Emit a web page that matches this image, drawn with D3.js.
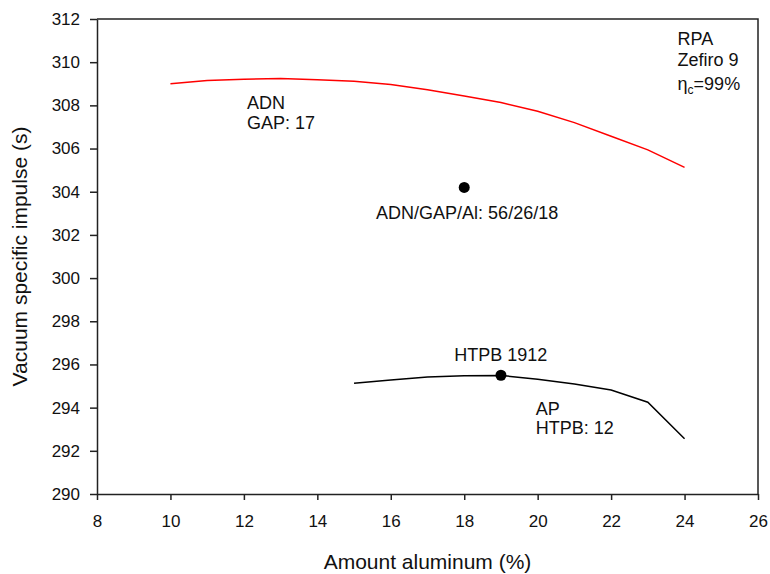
<!DOCTYPE html>
<html>
<head>
<meta charset="utf-8">
<script src="https://cdn.jsdelivr.net/npm/d3@7"></script>
<style>
  body { margin: 0; background: #fff; }
  svg text { font-family: "Liberation Sans", Arial, sans-serif; fill: #111; }
  .axis path, .axis line { stroke: #222; stroke-width: 1.5; }
</style>
</head>
<body>
<div id="holder"></div>
<script>
// ADN / GAP 17 curve (red)
var adnAl  = [10, 11, 12, 13, 14, 15, 16, 17, 18, 19, 20, 21, 22, 23, 24];
var adnIsp = [309.00, 309.15, 309.21, 309.24, 309.19, 309.12, 308.97, 308.72,
              308.43, 308.13, 307.73, 307.20, 306.57, 305.94, 305.13];

// AP / HTPB 12 curve (black)
var apAl  = [15, 16, 17, 18, 19, 20, 21, 22, 23, 24];
var apIsp = [295.13, 295.28, 295.42, 295.48, 295.49, 295.32, 295.10, 294.82, 294.25, 292.56];

// single formulations
var pointAl  = [18, 19];
var pointIsp = [304.2, 295.5];

var xTicks = [8, 10, 12, 14, 16, 18, 20, 22, 24, 26];
var yTicks = [290, 292, 294, 296, 298, 300, 302, 304, 306, 308, 310, 312];

function generateChart() {
  var margin = {top: 19, right: 12, bottom: 80, left: 97};
  var fullWidth = 770;
  var fullHeight = 574;
  var width = fullWidth - margin.left - margin.right;
  var height = fullHeight - margin.top - margin.bottom;

  var svg = d3.select('#holder').append('svg')
    .attr('width', fullWidth)
    .attr('height', fullHeight)
    .append('g')
    .attr('transform', 'translate(' + margin.left + ',' + margin.top + ')');

  var x = d3.scaleLinear().domain([8, 26]).range([0, width]);
  var y = d3.scaleLinear().domain([290, 312]).range([height, 0]);

  // frame (top and right sides)
  svg.append('path')
    .attr('d', 'M0,0H' + width + 'V' + height)
    .attr('fill', 'none')
    .attr('stroke', '#222')
    .attr('stroke-width', 1.5);

  var xaxis = d3.axisBottom(x).tickValues(xTicks).tickSize(6).tickPadding(15).tickSizeOuter(0);
  var yaxis = d3.axisLeft(y).tickValues(yTicks).tickSize(7).tickPadding(10).tickSizeOuter(0);

  svg.append('g')
    .classed('x axis', true)
    .attr('transform', 'translate(0,' + height + ')')
    .call(xaxis)
    .selectAll('text').style('font-size', '17px');

  svg.append('g')
    .classed('y axis', true)
    .call(yaxis)
    .selectAll('text').style('font-size', '17px');

  svg.selectAll('.domain').attr('stroke', '#222').attr('stroke-width', 1.5);

  var line = d3.line()
    .x(function(d) { return x(d[0]); })
    .y(function(d) { return y(d[1]); });

  svg.append('path')
    .datum(d3.zip(adnAl, adnIsp))
    .attr('d', line)
    .attr('fill', 'none')
    .attr('stroke', '#ff0000')
    .attr('stroke-width', 1.5);

  svg.append('path')
    .datum(d3.zip(apAl, apIsp))
    .attr('d', line)
    .attr('fill', 'none')
    .attr('stroke', '#000')
    .attr('stroke-width', 1.5);

  svg.selectAll('circle.pt')
    .data(d3.zip(pointAl, pointIsp))
    .enter().append('circle')
      .classed('pt', true)
      .attr('cx', function(d) { return x(d[0]); })
      .attr('cy', function(d) { return y(d[1]); })
      .attr('r', 5.5)
      .attr('fill', '#000');

  // annotations
  function label(xv, yv, lines, gap) {
    var t = svg.append('text')
      .attr('x', x(xv))
      .attr('y', y(yv))
      .style('font-size', '18px');
    lines.forEach(function(s, i) {
      t.append('tspan')
        .attr('x', x(xv))
        .attr('dy', i === 0 ? 0 : gap)
        .text(s);
    });
    return t;
  }

  label(12.085, 307.83, ['ADN', 'GAP: 17'], 20);
  label(15.6, 302.72, ['ADN/GAP/Al: 56/26/18'], 0);
  label(17.73, 296.17, ['HTPB 1912'], 0);
  label(19.95, 293.66, ['AP', 'HTPB: 12'], 19.5);
  label(23.81, 310.8, ['RPA', 'Zefiro 9'], 21);

  var eta = svg.append('text')
    .attr('x', x(23.81))
    .attr('y', y(310.8) + 45)
    .style('font-size', '18px');
  eta.append('tspan').text('\u03b7');
  eta.append('tspan').attr('dy', 4).style('font-size', '12px').text('c');
  eta.append('tspan').attr('dy', -4).text('=99%');

  // axis titles
  svg.append('text')
    .attr('x', width / 2)
    .attr('y', height + 75)
    .attr('text-anchor', 'middle')
    .style('font-size', '21px')
    .text('Amount aluminum (%)');

  svg.append('text')
    .attr('transform', 'translate(' + (27 - margin.left) + ',' + (height / 2) + ') rotate(-90)')
    .attr('text-anchor', 'middle')
    .style('font-size', '21px')
    .text('Vacuum specific impulse (s)');
}

generateChart();
</script>
</body>
</html>
